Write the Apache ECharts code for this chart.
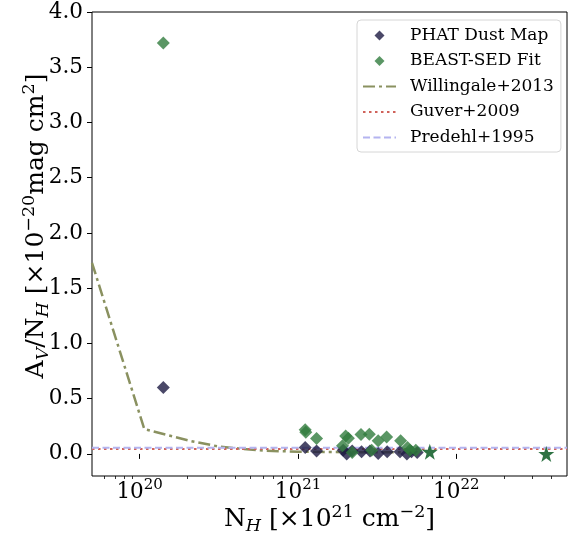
<!DOCTYPE html>
<html>
<head>
<meta charset="utf-8">
<script src="https://cdn.jsdelivr.net/npm/echarts@6/dist/echarts.min.js"></script>
<style>
  html, body { margin: 0; padding: 0; background: #ffffff; }
  #chart { width: 572px; height: 538px; }
</style>
</head>
<body>
<div id="chart"></div>
<script>
// Column density range shown on the log x axis (cm^-2)
const xRange = [5e19, 5e22];
const majorTicksX = [1e20, 1e21, 1e22];
const minorTicksX = [
  6e19, 7e19, 8e19, 9e19,
  2e20, 3e20, 4e20, 5e20, 6e20, 7e20, 8e20, 9e20,
  2e21, 3e21, 4e21, 5e21, 6e21, 7e21, 8e21, 9e21,
  2e22, 3e22, 4e22
];
const yRange = [-0.2, 4.0];
const yTicks = [0, 0.5, 1.0, 1.5, 2.0, 2.5, 3.0, 3.5, 4.0];

// A_V / N_H (x1e-20 mag cm^2) against N_H
const phatDust = [
  [1.41e20, 0.60],
  [1.11e21, 0.057], [1.31e21, 0.027], [1.93e21, 0.033], [2.03e21, 0.000],
  [2.20e21, 0.027], [2.52e21, 0.020], [2.85e21, 0.027], [3.21e21, 0.003],
  [3.66e21, 0.020], [4.41e21, 0.020], [4.87e21, 0.000], [5.21e21, 0.020],
  [5.66e21, 0.012]
];
const beastSed = [
  [1.41e20, 3.72],
  [1.11e21, 0.218], [1.12e21, 0.195], [1.31e21, 0.139], [1.91e21, 0.073],
  [2.00e21, 0.163], [2.08e21, 0.142], [2.20e21, 0.012], [2.50e21, 0.175],
  [2.82e21, 0.179], [2.92e21, 0.034], [3.21e21, 0.118], [3.63e21, 0.154],
  [4.45e21, 0.118], [4.92e21, 0.057], [5.09e21, 0.034], [5.55e21, 0.034]
];
const starPoints = [
  [6.8e21, 0.020],
  [3.7e22, 0.000]
];

// Willingale et al. (2013) relation sampled along N_H
const willingaleNH = [5e19, 1.07e20, 2.08e20, 3.2e20, 4.5e20, 6.3e20, 1e21, 2e21, 5.5e21];
const willingaleRatio = [1.73, 0.225, 0.118, 0.065, 0.045, 0.028, 0.020, 0.016, 0.014];

// Constant Galactic conversions
const guverRatio = 0.0452;   // N_H = 2.21e21 A_V
const predehlRatio = 0.0559; // N_H = 1.79e21 A_V

const serif = 'DejaVu Serif';

const pairs = (xs, ys) => xs.map((x, i) => [x, ys[i]]);
const flat = (v) => xRange.map((x) => [x, v]);

// Legend diamond drawn in a box as wide as the legend handle, so it keeps its shape
const legendDiamond = 'path://M0,5.5L0,5.5M33,5.5L33,5.5M16.5,0.5L21.5,5.5L16.5,10.5L11.5,5.5Z';

const chart = echarts.init(document.getElementById('chart'), null, { renderer: 'canvas' });

const tickRich = {
  b: { fontFamily: serif, fontSize: 21.5, color: '#000', lineHeight: 28 },
  s: { fontFamily: serif, fontSize: 15, color: '#000', lineHeight: 15, verticalAlign: 'top' }
};
const nameRich = {
  b: { fontFamily: serif, fontSize: 25, color: '#000', lineHeight: 32 },
  s: { fontFamily: serif, fontSize: 17.5, color: '#000', lineHeight: 17, verticalAlign: 'top' },
  i: { fontFamily: serif, fontSize: 17.5, color: '#000', fontStyle: 'italic', lineHeight: 17, verticalAlign: 'bottom' }
};

chart.setOption({
  animation: false,
  backgroundColor: '#ffffff',
  grid: {
    left: 92, right: 5, top: 12, bottom: 62,
    outerBoundsMode: 'none', containLabel: false,
    show: true, borderColor: '#000', borderWidth: 1, backgroundColor: 'transparent'
  },
  legend: {
    orient: 'vertical',
    left: 357, top: 20,
    itemWidth: 33, itemHeight: 11, itemGap: 8.5,
    padding: [7, 7, 6, 5],
    borderColor: '#d6d6d6', borderWidth: 1, borderRadius: 4,
    backgroundColor: 'rgba(255,255,255,0.8)',
    textStyle: { fontFamily: serif, fontSize: 17, color: '#000', lineHeight: 16, padding: [0, 0, 0, 9] },
    data: [
      { name: 'PHAT Dust Map', icon: legendDiamond },
      { name: 'BEAST-SED Fit', icon: legendDiamond },
      { name: 'Willingale+2013', itemStyle: { opacity: 0 } },
      { name: 'Guver+2009', itemStyle: { opacity: 0 } },
      { name: 'Predehl+1995', itemStyle: { opacity: 0 } }
    ]
  },
  xAxis: [
    {
      type: 'log', logBase: 10, min: xRange[0], max: xRange[1], position: 'bottom',
      axisLine: { show: false },
      splitLine: { show: false },
      axisTick: { show: true, inside: false, length: 5, customValues: majorTicksX, lineStyle: { color: '#000', width: 1 } },
      axisLabel: {
        customValues: majorTicksX, margin: 2,
        formatter: (v) => '{b|10}{s|' + Math.round(Math.log10(v)) + '}',
        rich: tickRich
      },
      name: '{b|N}{i|H}{b| [×10}{s|21}{b| cm}{s|−2}{b|]}',
      nameLocation: 'middle', nameGap: 27, nameMoveOverlap: false,
      nameTextStyle: { rich: nameRich }
    },
    {
      type: 'log', logBase: 10, min: xRange[0], max: xRange[1], position: 'bottom',
      axisLine: { show: false }, splitLine: { show: false }, axisLabel: { show: false },
      axisTick: { show: true, inside: false, length: 3, customValues: minorTicksX, lineStyle: { color: '#000', width: 0.8 } }
    }
  ],
  yAxis: {
    type: 'value', min: yRange[0], max: yRange[1],
    axisLine: { show: false },
    splitLine: { show: false },
    axisTick: { show: true, inside: false, length: 5, customValues: yTicks, lineStyle: { color: '#000', width: 1 } },
    axisLabel: {
      customValues: yTicks, margin: 9,
      fontFamily: serif, fontSize: 21.5, color: '#000',
      formatter: (v) => v.toFixed(1)
    },
    name: '{b|A}{i|V}{b|/N}{i|H}{b| [×10}{s|−20}{b|mag cm}{s|2}{b|]}',
    nameLocation: 'middle', nameRotate: 90, nameGap: 40, nameMoveOverlap: false,
    nameTextStyle: { rich: nameRich, padding: [0, 0, 0, 36] }
  },
  series: [
    {
      name: 'Willingale+2013', type: 'line', z: 2,
      data: pairs(willingaleNH, willingaleRatio),
      symbol: 'none',
      lineStyle: { color: '#8a9160', width: 2.5, type: [12, 4, 3, 4] },
      itemStyle: { color: '#8a9160' }
    },
    {
      name: 'Guver+2009', type: 'line', z: 2,
      data: flat(guverRatio),
      symbol: 'none',
      lineStyle: { color: '#d0625a', width: 2, type: [2.5, 3.5] },
      itemStyle: { color: '#d0625a' }
    },
    {
      name: 'Predehl+1995', type: 'line', z: 2,
      data: flat(predehlRatio),
      symbol: 'none',
      lineStyle: { color: '#b4b4f0', width: 2, type: [7, 3.5] },
      itemStyle: { color: '#b4b4f0' }
    },
    {
      name: 'PHAT Dust Map', type: 'scatter', z: 3,
      data: phatDust, symbol: 'diamond', symbolSize: 13,
      itemStyle: { color: '#1d1a42', opacity: 0.8 }
    },
    {
      name: 'BEAST-SED Fit', type: 'scatter', z: 3,
      data: beastSed, symbol: 'diamond', symbolSize: 13,
      itemStyle: { color: '#317c3d', opacity: 0.8 }
    },
    {
      name: 'Stars', type: 'scatter', z: 4,
      data: starPoints, symbol: 'path://M0,-10 L2.35,-3.24 L9.51,-3.09 L3.8,1.24 L5.88,8.09 L0,4 L-5.88,8.09 L-3.8,1.24 L-9.51,-3.09 L-2.35,-3.24 Z',
      symbolSize: 16,
      itemStyle: { color: '#246b3a', opacity: 0.95 }
    }
  ]
});
</script>
</body>
</html>
